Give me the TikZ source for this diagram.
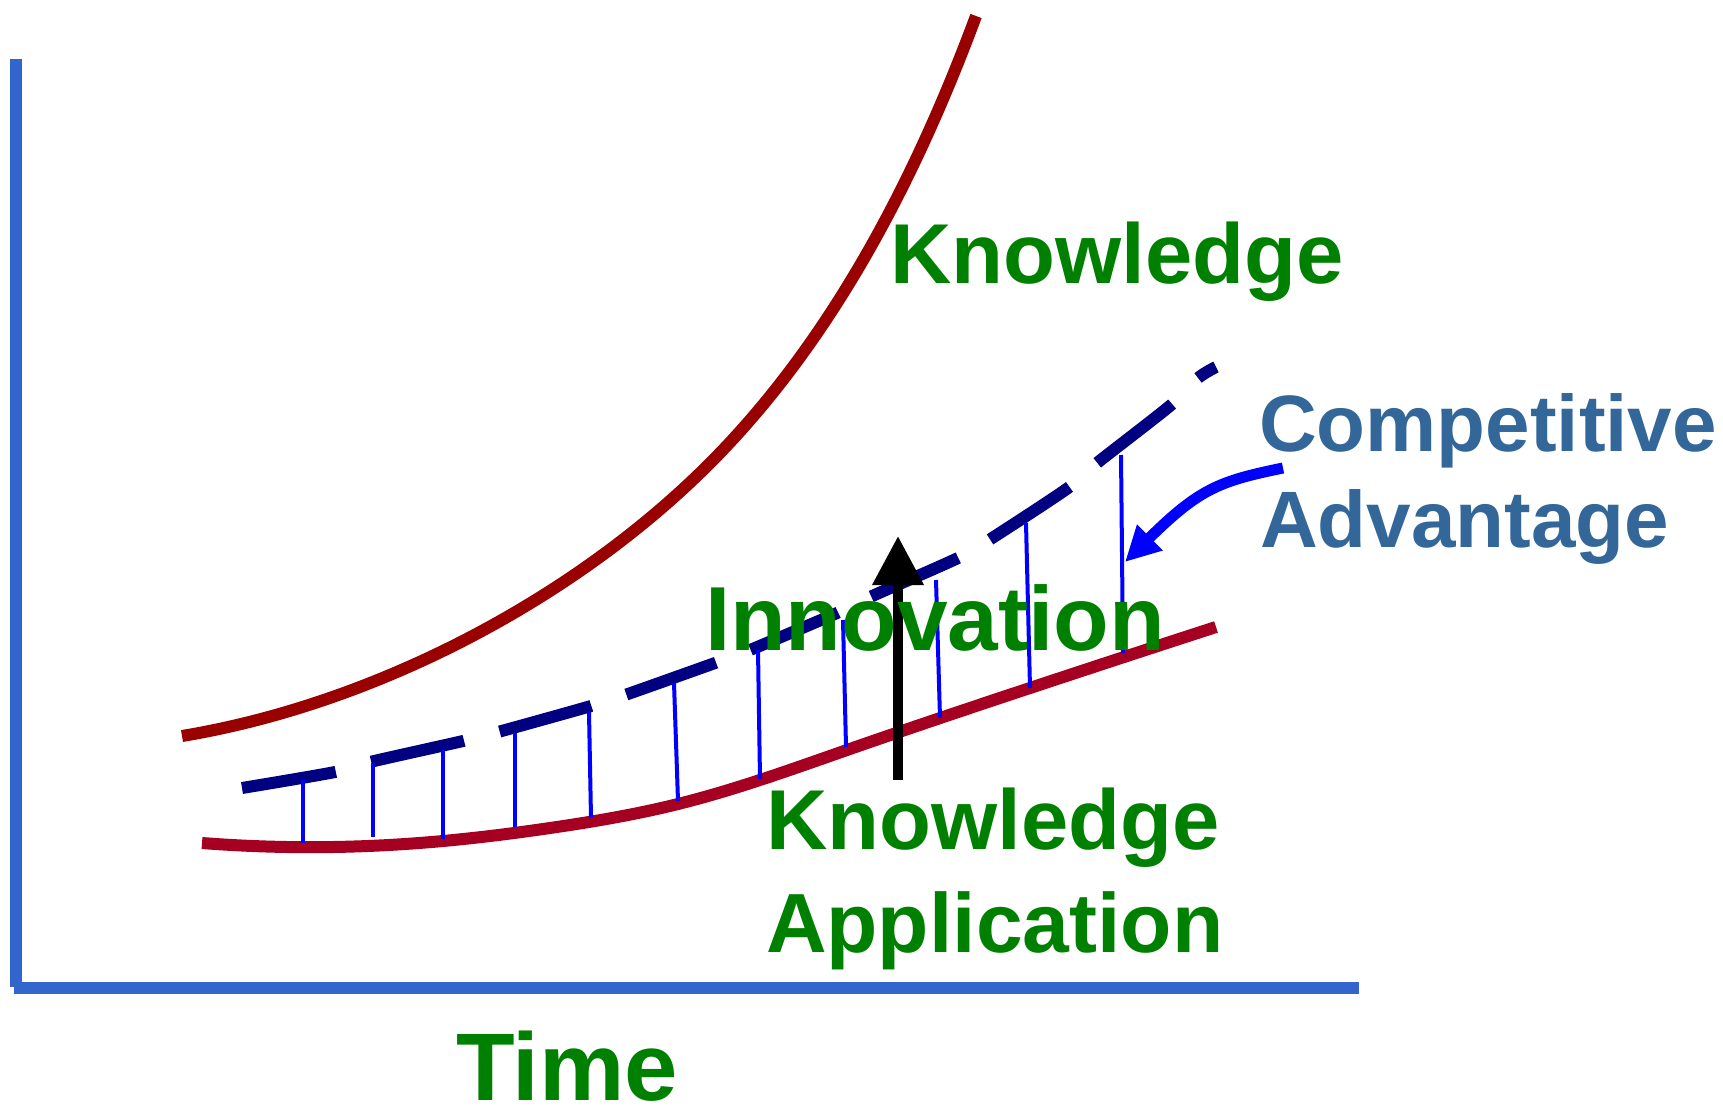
\documentclass[tikz,border=0pt]{standalone}
\usepackage{fontspec}
\setmainfont{Liberation Sans}
\usetikzlibrary{arrows.meta,hobby}
\definecolor{axisblue}{RGB}{51,102,204}
\definecolor{knowred}{RGB}{153,0,0}
\definecolor{appred}{RGB}{165,0,33}
\definecolor{compnavy}{RGB}{0,0,128}
\definecolor{dropblue}{RGB}{0,0,255}
\definecolor{txtgreen}{RGB}{0,128,0}
\definecolor{txtsteel}{RGB}{51,102,153}
\begin{document}
\begin{tikzpicture}[x=1pt,y=-1pt,
  axisline/.style={draw=axisblue,line width=12pt},
  knowcurve/.style={draw=knowred,line width=12pt},
  appcurve/.style={draw=appred,line width=12pt},
  compcurve/.style={draw=compnavy,line width=12pt,dash pattern=on 95.2pt off 36.8pt},
  dropline/.style={draw=dropblue,line width=4pt},
  innarrow/.style={draw=black,line width=10pt,-{Triangle[length=49pt,width=49pt]}},
  comparrow/.style={draw=dropblue,line width=11pt,-{Triangle[length=35pt,width=34pt]}},
  lbl/.style={inner sep=0pt,outer sep=0pt,anchor=base west,text depth=0pt,font=\bfseries},
  greenlbl/.style={lbl,text=txtgreen},
  steellbl/.style={lbl,text=txtsteel}
]
\useasboundingbox (0,0) rectangle (1723,1110);

% axes
\coordinate (ytop) at (16,59);
\coordinate (origin) at (16,988);
\coordinate (xend) at (1359,988);
\draw[axisline] (ytop) -- (16,987);
\draw[axisline] (14,988) -- (xend);

% knowledge curve
\coordinate (kstart) at (182,736);
\coordinate (kmid) at (700,473);
\coordinate (kend) at (976,16);
\draw[knowcurve] (kstart) .. controls (369,705) and (564,605) .. (kmid)
  .. controls (828,349) and (914,183) .. (kend);

% knowledge application curve
\coordinate (astart) at (202,843);
\coordinate (aend) at (1216,627);
\draw[appcurve] (astart) to[curve through={(333,847) (443,841) (550,828) (678,804) (847,750) (1030,688)}] (aend);

% competitive advantage (dashed)
\draw[compcurve] plot[smooth,tension=0.5] coordinates {(242,788) (335,772) (370,762) (463,741) (498,732) (591,706) (625,695) (715,663) (750,650) (837,613) (870,597) (958,558) (989,540) (1068,488) (1097,463) (1171,405) (1198,378) (1216,367)};

% drop lines
\draw[dropline] (303,780) -- (303,843);
\draw[dropline] (373,763) -- (373,837);
\draw[dropline] (443,750) -- (443,839);
\draw[dropline] (515,733) -- (515,827);
\draw[dropline] (589,712) -- (591,818);
\draw[dropline] (674,683) -- (678,801);
\draw[dropline] (758,650) -- (760,779);
\draw[dropline] (843,620) -- (846,747);
\draw[dropline] (936,580) -- (940,718);
\draw[dropline] (1026,523) -- (1030,688);
\draw[dropline] (1121,455) -- (1123,653);

% innovation arrow
\coordinate (innbot) at (898,780);
\coordinate (inntop) at (898,536);
\draw[innarrow] (innbot) -- (inntop);

% competitive advantage arrow
\coordinate (castart) at (1283,468);
\coordinate (catip) at (1125,562);
\draw[comparrow] (castart) .. controls (1220,481) and (1200,488) .. (catip);

% labels
\node[greenlbl,font=\fontsize{85}{85}\selectfont\bfseries] (know) at (890,283) {Knowledge};
\node[greenlbl,font=\fontsize{91}{91}\selectfont\bfseries] (innov) at (705,650) {Innovation};
\node[greenlbl,font=\fontsize{85}{85}\selectfont\bfseries] (kapp1) at (766,849) {Knowledge};
\node[greenlbl,font=\fontsize{84}{84}\selectfont\bfseries] (kapp2) at (766,952) {Application};
\node[steellbl,font=\fontsize{80}{80}\selectfont\bfseries] (comp1) at (1259,451) {Competitive};
\node[steellbl,font=\fontsize{80}{80}\selectfont\bfseries] (comp2) at (1260,547) {Advantage};
\node[greenlbl,font=\fontsize{96}{96}\selectfont\bfseries] (time) at (456,1100) {Time};
\end{tikzpicture}
\end{document}
